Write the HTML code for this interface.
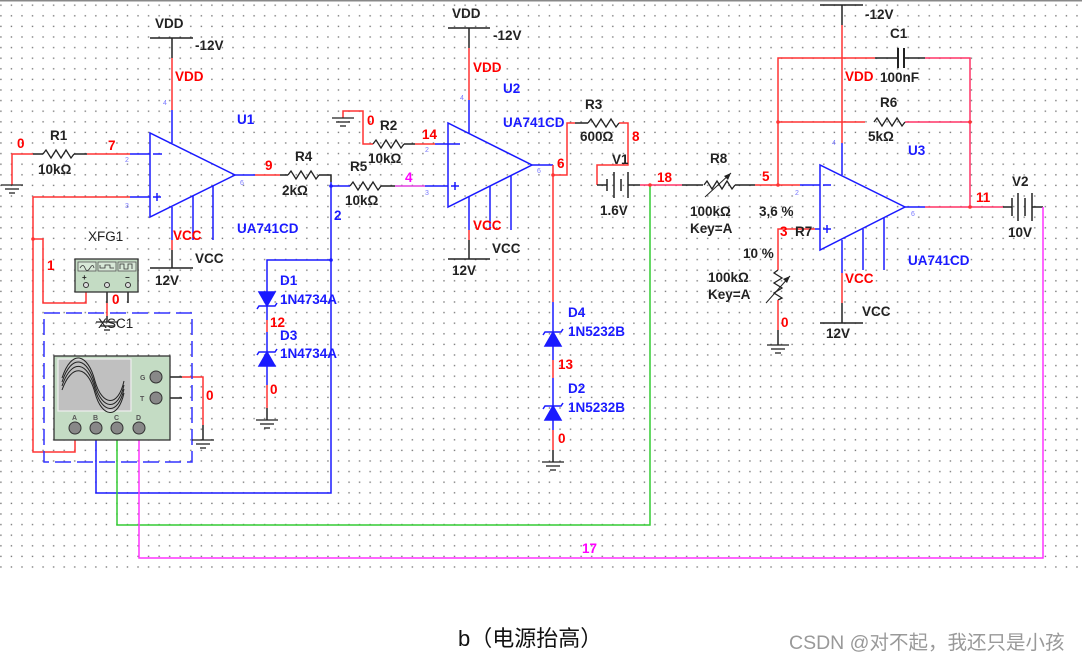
<!DOCTYPE html>
<html><head><meta charset="utf-8"><style>
html,body{margin:0;padding:0;background:#fff;}
svg{display:block;font-family:"Liberation Sans",Arial,sans-serif;font-weight:bold;}
.k{fill:#222;font-size:13.5px}
.r{fill:#f00;font-size:13.5px}
.b{fill:#1a1aff;font-size:13.5px}
.m{fill:#f0f;font-size:13.5px}
.s{fill:#7a7aff;font-size:7px;font-weight:normal}
</style></head><body>
<svg width="1082" height="662" viewBox="0 0 1082 662" xmlns="http://www.w3.org/2000/svg">
<defs>
<pattern id="g" x="0" y="0" width="10.55" height="10.6" patternUnits="userSpaceOnUse">
<rect x="0.2" y="4.5" width="1.4" height="1.4" fill="#7a7a7a"/>
</pattern>
<polyline id="res" points="0,0 3,-4 8,4 13,-4 18,4 23,-4 28,4 31,0" fill="none" stroke="#222" stroke-width="1.3"/>
<g id="gnd" stroke="#222" stroke-width="1.3"><line x1="-11" y1="0" x2="11" y2="0"/><line x1="-7" y1="4" x2="7" y2="4"/><line x1="-3" y1="8" x2="3" y2="8"/></g>
</defs>
<rect x="0" y="0" width="1082" height="575" fill="url(#g)"/>
<rect x="0" y="0" width="1082" height="1.5" fill="#888"/>

<g fill="none" stroke-width="1.5">
<polygon points="150,133 150,217 235,175" stroke="#1a1aff"/>
<line x1="150" y1="38" x2="193" y2="38" stroke="#222"/>
<line x1="172" y1="38" x2="172" y2="58" stroke="#222"/>
<line x1="172" y1="58" x2="172" y2="110" stroke="#f33"/>
<line x1="172" y1="110" x2="172" y2="143" stroke="#1a1aff"/>
<line x1="172" y1="207" x2="172" y2="240" stroke="#1a1aff"/>
<line x1="172" y1="240" x2="172" y2="250" stroke="#f33"/>
<line x1="172" y1="250" x2="172" y2="268" stroke="#222"/>
<line x1="150" y1="268" x2="193" y2="268" stroke="#222"/>
<line x1="193" y1="196" x2="193" y2="240" stroke="#1a1aff"/>
<line x1="213" y1="186" x2="213" y2="240" stroke="#1a1aff"/>
<line x1="153" y1="154" x2="162" y2="154" stroke="#1a1aff"/>
<line x1="153" y1="197" x2="161" y2="197" stroke="#1a1aff"/><line x1="157" y1="193" x2="157" y2="201" stroke="#1a1aff"/>
<polyline points="12,185 12,154 33,154" stroke="#f33"/>
<line x1="33" y1="154" x2="43" y2="154" stroke="#222"/>
<line x1="74" y1="154" x2="87" y2="154" stroke="#222"/>
<line x1="87" y1="154" x2="130" y2="154" stroke="#f33"/>
<line x1="130" y1="154" x2="150" y2="154" stroke="#1a1aff"/>
<line x1="130" y1="197" x2="150" y2="197" stroke="#1a1aff"/>
<polyline points="130,197 33,197 33,452 75,452 75,440" stroke="#f33"/>
<polyline points="33,239 43,239 43,303 86,303 86,292" stroke="#f33"/>
<line x1="75" y1="440" x2="75" y2="432" stroke="#222"/>
<line x1="86" y1="292" x2="86" y2="287" stroke="#222"/>
<line x1="235" y1="175" x2="255" y2="175" stroke="#1a1aff"/>
<line x1="255" y1="175" x2="280" y2="175" stroke="#f33"/>
<line x1="280" y1="175" x2="288" y2="175" stroke="#222"/>
<polyline points="319,175 331,175 331,182" stroke="#222"/>
<polyline points="331,182 331,493 96,493 96,440" stroke="#1a1aff"/>
<line x1="96" y1="440" x2="96" y2="432" stroke="#222"/>
<polyline points="331,260 267,260 267,290" stroke="#1a1aff"/>
<line x1="331" y1="186" x2="350" y2="186" stroke="#1a1aff"/>
<line x1="381" y1="186" x2="395" y2="186" stroke="#222"/>
<line x1="395" y1="186" x2="425" y2="186" stroke="#e040e0"/>
<line x1="425" y1="186" x2="448" y2="186" stroke="#1a1aff"/>
<polygon points="448,123 448,207 532,165" stroke="#1a1aff"/>
<line x1="448" y1="28" x2="490" y2="28" stroke="#222"/>
<line x1="469" y1="28" x2="469" y2="48" stroke="#222"/>
<line x1="469" y1="48" x2="469" y2="100" stroke="#f33"/>
<line x1="469" y1="100" x2="469" y2="133" stroke="#1a1aff"/>
<line x1="469" y1="196" x2="469" y2="230" stroke="#1a1aff"/>
<line x1="469" y1="230" x2="469" y2="240" stroke="#f33"/>
<line x1="469" y1="240" x2="469" y2="259" stroke="#222"/>
<line x1="448" y1="259" x2="490" y2="259" stroke="#222"/>
<line x1="490" y1="186" x2="490" y2="230" stroke="#1a1aff"/>
<line x1="511" y1="176" x2="511" y2="230" stroke="#1a1aff"/>
<line x1="451" y1="186" x2="459" y2="186" stroke="#1a1aff"/><line x1="455" y1="182" x2="455" y2="190" stroke="#1a1aff"/>
<polyline points="343,118 343,111 363,111 363,144 373,144" stroke="#f33"/>
<line x1="404" y1="144" x2="415" y2="144" stroke="#222"/>
<line x1="415" y1="144" x2="435" y2="144" stroke="#f33"/>
<line x1="435" y1="144" x2="460" y2="144" stroke="#1a1aff"/>
<line x1="532" y1="165" x2="553" y2="165" stroke="#1a1aff"/>
<polyline points="553,165 553,175 567,175 567,123 575,123" stroke="#f33"/>
<line x1="575" y1="123" x2="588" y2="123" stroke="#222"/>
<polyline points="619,123 628,123 628,165 597,165 597,185" stroke="#f33"/>
<line x1="553" y1="175" x2="553" y2="302" stroke="#f33"/>
<line x1="553" y1="302" x2="553" y2="360" stroke="#1a1aff"/>
<line x1="553" y1="360" x2="553" y2="378" stroke="#f33"/>
<line x1="553" y1="378" x2="553" y2="430" stroke="#1a1aff"/>
<line x1="553" y1="430" x2="553" y2="450" stroke="#f33"/>
<line x1="553" y1="450" x2="553" y2="462" stroke="#222"/>
<line x1="597" y1="185" x2="607" y2="185" stroke="#222"/>
<line x1="607" y1="179" x2="607" y2="191" stroke="#222"/>
<line x1="614" y1="172" x2="614" y2="198" stroke="#222"/>
<line x1="621" y1="179" x2="621" y2="191" stroke="#222"/>
<line x1="628" y1="172" x2="628" y2="198" stroke="#222"/>
<line x1="628" y1="185" x2="640" y2="185" stroke="#222"/>
<line x1="640" y1="185" x2="682" y2="185" stroke="#f36"/>
<line x1="682" y1="185" x2="703" y2="185" stroke="#222"/>
<polyline points="650,185 650,525 117,525 117,440" stroke="#33cc33"/>
<line x1="117" y1="440" x2="117" y2="432" stroke="#222"/>
<line x1="735" y1="185" x2="755" y2="185" stroke="#222"/>
<line x1="755" y1="185" x2="800" y2="185" stroke="#f33"/>
<line x1="800" y1="185" x2="820" y2="185" stroke="#1a1aff"/>
<line x1="705" y1="197" x2="731" y2="173" stroke="#222" stroke-width="1"/>
<polygon points="820,165 820,250 905,207" stroke="#1a1aff"/>
<line x1="820" y1="5" x2="863" y2="5" stroke="#222"/>
<line x1="842" y1="5" x2="842" y2="25" stroke="#222"/>
<line x1="842" y1="25" x2="842" y2="143" stroke="#f33"/>
<line x1="842" y1="143" x2="842" y2="175" stroke="#1a1aff"/>
<line x1="842" y1="240" x2="842" y2="273" stroke="#1a1aff"/>
<line x1="842" y1="273" x2="842" y2="303" stroke="#f33"/>
<line x1="842" y1="303" x2="842" y2="323" stroke="#222"/>
<line x1="820" y1="323" x2="863" y2="323" stroke="#222"/>
<line x1="863" y1="229" x2="863" y2="270" stroke="#1a1aff"/>
<line x1="884" y1="218" x2="884" y2="270" stroke="#1a1aff"/>
<line x1="823" y1="185" x2="831" y2="185" stroke="#1a1aff"/>
<line x1="823" y1="229" x2="831" y2="229" stroke="#1a1aff"/><line x1="827" y1="225" x2="827" y2="233" stroke="#1a1aff"/>
<polyline points="778,185 778,58 875,58" stroke="#f33"/>
<line x1="875" y1="58" x2="897" y2="58" stroke="#222"/>
<line x1="898" y1="48" x2="898" y2="68" stroke="#222" stroke-width="2"/>
<line x1="904" y1="48" x2="904" y2="68" stroke="#222" stroke-width="2"/>
<line x1="905" y1="58" x2="925" y2="58" stroke="#222"/>
<polyline points="925,58 970,58 970,207" stroke="#f36"/>
<line x1="778" y1="122" x2="865" y2="122" stroke="#f33"/>
<line x1="905" y1="122" x2="970" y2="122" stroke="#f36"/>
<line x1="905" y1="207" x2="925" y2="207" stroke="#1a1aff"/>
<line x1="925" y1="207" x2="1003" y2="207" stroke="#f36"/>
<line x1="1003" y1="207" x2="1012" y2="207" stroke="#222"/>
<line x1="1012" y1="198" x2="1012" y2="216" stroke="#222"/>
<line x1="1018" y1="193" x2="1018" y2="221" stroke="#222"/>
<line x1="1025" y1="198" x2="1025" y2="216" stroke="#222"/>
<line x1="1032" y1="193" x2="1032" y2="221" stroke="#222"/>
<line x1="1032" y1="207" x2="1043" y2="207" stroke="#222"/>
<polyline points="1043,207 1043,558 139,558 139,440" stroke="#ff33ff"/>
<line x1="139" y1="440" x2="139" y2="432" stroke="#222"/>
<polyline points="815,229 778,229 778,270" stroke="#f33"/>
<line x1="815" y1="229" x2="820" y2="229" stroke="#1a1aff"/>
<polyline points="778,270 774,273 782,278 774,283 782,288 774,293 782,298 778,300" stroke="#222" stroke-width="1.3"/>
<line x1="766" y1="303" x2="790" y2="276" stroke="#222" stroke-width="1"/>
<line x1="778" y1="300" x2="778" y2="330" stroke="#f33"/>
<line x1="778" y1="330" x2="778" y2="345" stroke="#222"/>
<line x1="267" y1="290" x2="267" y2="320" stroke="#1a1aff"/>
<line x1="267" y1="320" x2="267" y2="332" stroke="#f33"/>
<line x1="267" y1="332" x2="267" y2="385" stroke="#1a1aff"/>
<line x1="267" y1="385" x2="267" y2="408" stroke="#f33"/>
<line x1="267" y1="408" x2="267" y2="420" stroke="#222"/>
<polyline points="162,377 182,377" stroke="#222"/>
<polyline points="182,377 203,377 203,425" stroke="#f33"/>
<line x1="203" y1="425" x2="203" y2="440" stroke="#222"/>
<line x1="162" y1="398" x2="182" y2="398" stroke="#222"/>
<line x1="107" y1="292" x2="107" y2="303" stroke="#222"/>
<line x1="107" y1="303" x2="107" y2="316" stroke="#f33"/>
<line x1="107" y1="316" x2="107" y2="322" stroke="#222"/>
<line x1="128" y1="292" x2="128" y2="303" stroke="#222"/>
<rect x="44" y="313" width="148" height="149" stroke="#3333ff" stroke-dasharray="16,6"/>
</g>
<use href="#res" x="43" y="154"/>
<use href="#res" x="288" y="175"/>
<use href="#res" x="350" y="186"/>
<use href="#res" x="373" y="144"/>
<use href="#res" x="588" y="123"/>
<use href="#res" x="704" y="185"/>
<use href="#res" x="874" y="122"/>
<polygon points="731,173 724,176 728,180" fill="#222"/>
<polygon points="790,276 783,279 787,283" fill="#222"/>
<use href="#gnd" x="12" y="185"/>
<use href="#gnd" x="343" y="118"/>
<use href="#gnd" x="267" y="420"/>
<use href="#gnd" x="553" y="462"/>
<use href="#gnd" x="778" y="345"/>
<use href="#gnd" x="203" y="440"/>
<use href="#gnd" x="107" y="322"/>
<g fill="#1a1aff" stroke="#1a1aff" stroke-width="1.5">
<polygon points="259,292 275,292 267,306"/><polyline points="257,309 259,306 275,306 277,303" fill="none"/>
<polygon points="259,366 275,366 267,352"/><polyline points="257,355 259,352 275,352 277,349" fill="none"/>
<polygon points="545,346 561,346 553,332"/><polyline points="543,335 545,332 561,332 563,329" fill="none"/>
<polygon points="545,420 561,420 553,406"/><polyline points="543,409 545,406 561,406 563,403" fill="none"/>
</g>
<rect x="75" y="259" width="63" height="33" fill="#c4dcc4" stroke="#333" stroke-width="1.3"/>
<rect x="78" y="262" width="18" height="9" fill="#d8e8d8" stroke="#555" stroke-width="0.8"/>
<rect x="98" y="262" width="18" height="9" fill="#d8e8d8" stroke="#555" stroke-width="0.8"/>
<rect x="118" y="262" width="18" height="9" fill="#d8e8d8" stroke="#555" stroke-width="0.8"/>
<path d="M80,268 q3,-5 5,0 t5,0 t4,0" fill="none" stroke="#333" stroke-width="0.8"/>
<path d="M100,265 v3 h5 v-3 h5 v3 h4" fill="none" stroke="#333" stroke-width="0.8"/>
<path d="M120,269 v-5 h4 v5 h4 v-5 h4 v5" fill="none" stroke="#333" stroke-width="0.8"/>
<text x="82" y="280" class="k" style="font-size:8px">+</text>
<text x="125" y="280" class="k" style="font-size:8px">−</text>
<circle cx="86" cy="285" r="2.5" fill="#ddd" stroke="#333"/>
<circle cx="107" cy="285" r="2.5" fill="#ddd" stroke="#333"/>
<circle cx="128" cy="285" r="2.5" fill="#ddd" stroke="#333"/>
<rect x="54" y="356" width="116" height="84" fill="#c4dcc4" stroke="#333" stroke-width="1.3"/>
<rect x="58" y="359" width="73" height="52" fill="#c0c0c0" stroke="#eee" stroke-width="1.2"/>
<g fill="none" stroke="#222" stroke-width="1">
<path d="M62,382 C72,352 88,358 95,385 C102,410 118,412 124,385"/>
<path d="M62,386 C72,357 88,362 95,389 C102,414 118,416 124,389"/>
<path d="M62,378 C72,348 88,354 95,381 C102,406 118,408 124,381"/>
<path d="M62,390 C72,362 88,366 95,393 C102,418 118,420 124,393"/>
</g>
<g fill="#888" stroke="#333" stroke-width="1">
<circle cx="75" cy="428" r="6"/><circle cx="96" cy="428" r="6"/><circle cx="117" cy="428" r="6"/><circle cx="139" cy="428" r="6"/>
<circle cx="156" cy="377" r="6"/><circle cx="156" cy="398" r="6"/>
</g>
<g class="k" style="font-size:7px;fill:#555">
<text x="72" y="420">A</text><text x="93" y="420">B</text><text x="114" y="420">C</text><text x="136" y="420">D</text>
<text x="140" y="380">G</text><text x="140" y="401">T</text>
</g>
<g fill="#f33"><circle cx="33" cy="239" r="1.8"/><circle cx="553" cy="175" r="1.8"/><circle cx="650" cy="185" r="1.8"/><circle cx="778" cy="185" r="1.8"/><circle cx="778" cy="122" r="1.8"/><circle cx="970" cy="122" r="1.8"/><circle cx="970" cy="207" r="1.8"/></g>
<g fill="#1a1aff"><circle cx="331" cy="186" r="1.8"/><circle cx="331" cy="260" r="1.8"/></g>

<text x="155" y="28" class="k">VDD</text><text x="195" y="50" class="k">-12V</text>
<text x="175" y="81" class="r">VDD</text><text x="237" y="124" class="b">U1</text>
<text x="237" y="233" class="b">UA741CD</text><text x="173" y="240" class="r">VCC</text>
<text x="195" y="263" class="k">VCC</text><text x="155" y="285" class="k">12V</text>
<text x="17" y="148" class="r">0</text><text x="50" y="140" class="k">R1</text><text x="38" y="174" class="k">10kΩ</text>
<text x="108" y="150" class="r">7</text>
<text x="265" y="170" class="r">9</text><text x="295" y="161" class="k">R4</text><text x="282" y="195" class="k">2kΩ</text>
<text x="334" y="220" class="b">2</text>
<text x="350" y="171" class="k">R5</text><text x="345" y="205" class="k">10kΩ</text><text x="405" y="182" class="m">4</text>
<text x="367" y="125" class="r">0</text><text x="380" y="130" class="k">R2</text><text x="368" y="163" class="k">10kΩ</text><text x="422" y="139" class="r">14</text>
<text x="452" y="18" class="k">VDD</text><text x="493" y="40" class="k">-12V</text>
<text x="473" y="72" class="r">VDD</text><text x="503" y="93" class="b">U2</text>
<text x="503" y="127" class="b">UA741CD</text><text x="473" y="230" class="r">VCC</text>
<text x="492" y="253" class="k">VCC</text><text x="452" y="275" class="k">12V</text>
<text x="557" y="168" class="r">6</text><text x="585" y="109" class="k">R3</text><text x="580" y="141" class="k">600Ω</text>
<text x="632" y="141" class="r">8</text><text x="612" y="164" class="k">V1</text><text x="600" y="215" class="k">1.6V</text>
<text x="657" y="182" class="r">18</text>
<text x="280" y="285" class="b">D1</text><text x="280" y="304" class="b">1N4734A</text>
<text x="270" y="327" class="r">12</text>
<text x="280" y="340" class="b">D3</text><text x="280" y="358" class="b">1N4734A</text>
<text x="270" y="394" class="r">0</text>
<text x="568" y="317" class="b">D4</text><text x="568" y="336" class="b">1N5232B</text>
<text x="558" y="369" class="r">13</text>
<text x="568" y="393" class="b">D2</text><text x="568" y="412" class="b">1N5232B</text>
<text x="558" y="443" class="r">0</text>
<text x="88" y="241" class="k" style="font-weight:normal">XFG1</text>
<text x="112" y="304" class="r">0</text>
<text x="98" y="328" class="k" style="font-weight:normal">XSC1</text>
<text x="206" y="400" class="r">0</text>
<text x="47" y="270" class="r">1</text>
<text x="865" y="19" class="k">-12V</text><text x="890" y="38" class="k">C1</text>
<text x="845" y="81" class="r">VDD</text><text x="880" y="82" class="k">100nF</text>
<text x="880" y="107" class="k">R6</text><text x="868" y="141" class="k">5kΩ</text>
<text x="908" y="155" class="b">U3</text>
<text x="710" y="163" class="k">R8</text><text x="762" y="181" class="r">5</text>
<text x="690" y="216" class="k">100kΩ</text><text x="690" y="233" class="k">Key=A</text>
<text x="759" y="216" class="k">3,6 %</text>
<text x="780" y="236" class="r">3</text><text x="795" y="236" class="k">R7</text>
<text x="743" y="258" class="k">10 %</text>
<text x="708" y="282" class="k">100kΩ</text><text x="708" y="299" class="k">Key=A</text>
<text x="781" y="327" class="r">0</text>
<text x="845" y="283" class="r">VCC</text><text x="862" y="316" class="k">VCC</text><text x="826" y="338" class="k">12V</text>
<text x="908" y="265" class="b">UA741CD</text>
<text x="976" y="202" class="r">11</text><text x="1012" y="186" class="k">V2</text><text x="1008" y="237" class="k">10V</text>
<text x="582" y="553" class="m">17</text>
<g class="s"><text x="125" y="162">2</text><text x="125" y="208">3</text><text x="163" y="105">4</text><text x="240" y="185">6</text>
<text x="425" y="152">2</text><text x="425" y="195">3</text><text x="460" y="100">4</text><text x="537" y="173">6</text>
<text x="795" y="195">2</text><text x="832" y="145">4</text><text x="911" y="216">6</text></g>

<text x="458" y="646" style="font-family:'Liberation Sans','Noto Sans CJK SC',sans-serif;font-weight:normal;font-size:22px;fill:#111">b（电源抬高）</text>
<text x="789" y="649" style="font-family:'Liberation Sans','Noto Sans CJK SC',sans-serif;font-weight:normal;font-size:19.5px;fill:#999">CSDN @对不起，我还只是小孩</text>
</svg>
</body></html>
